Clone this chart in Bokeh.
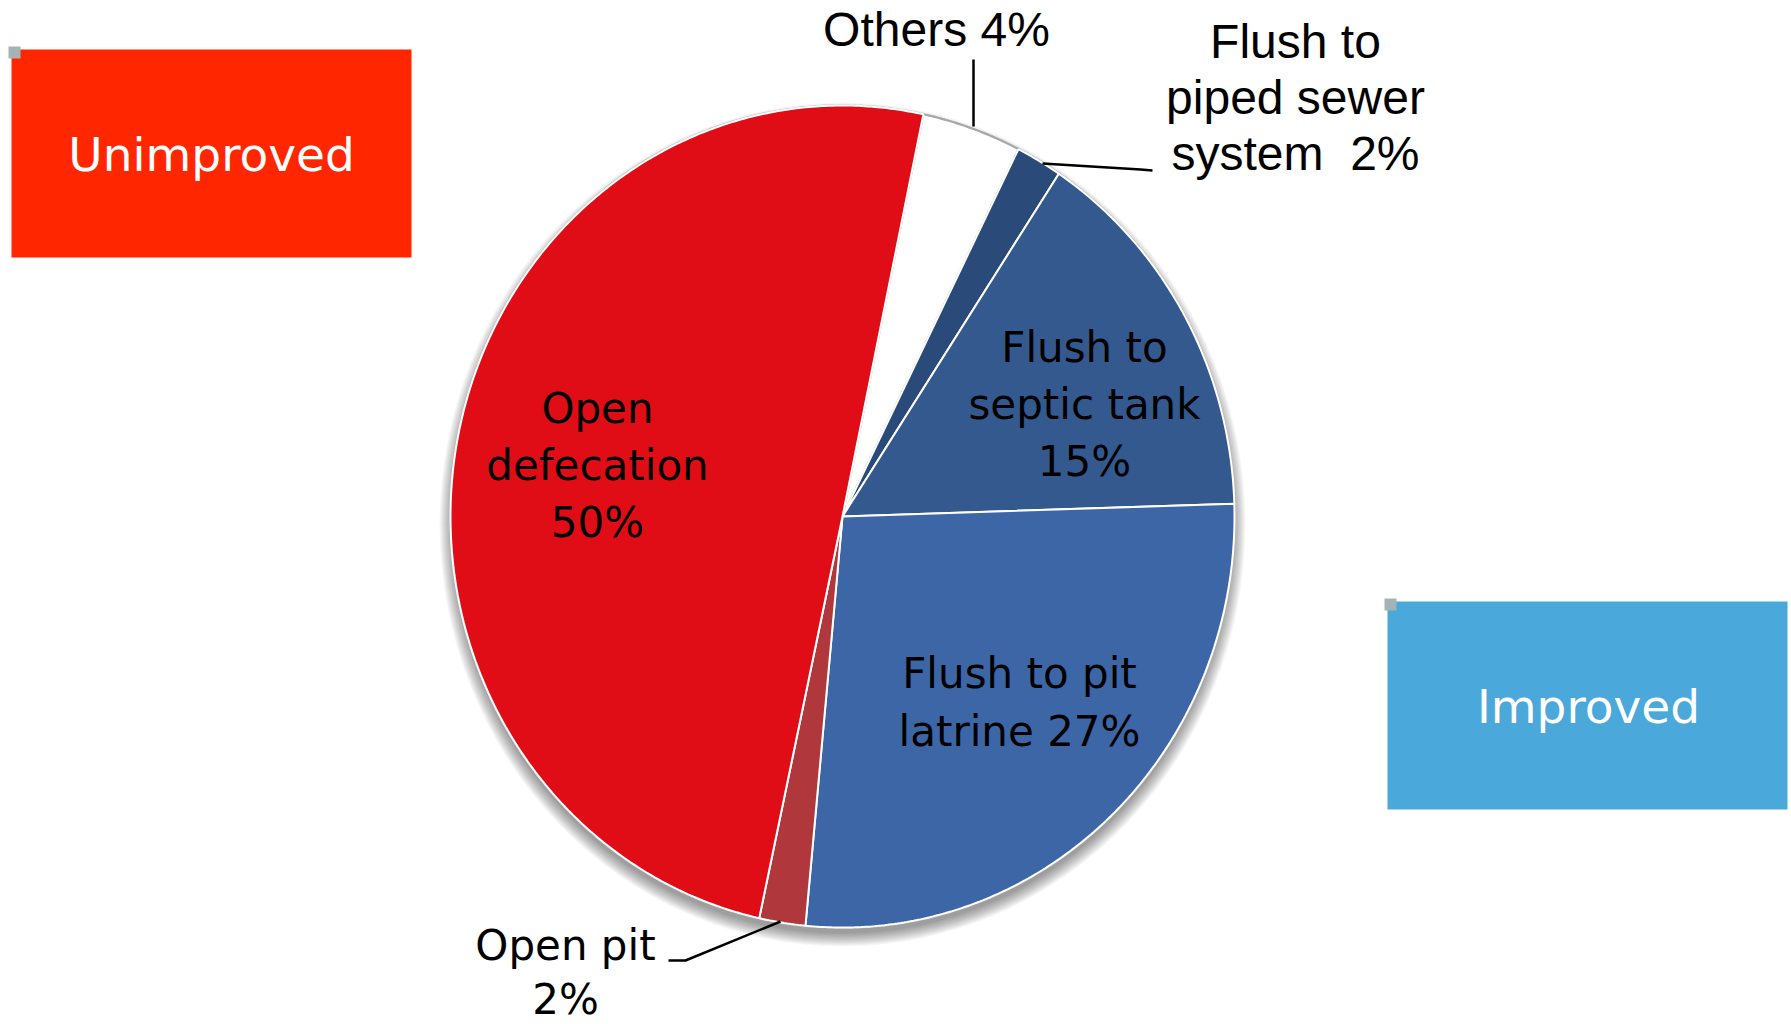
import numpy as np
from bokeh.plotting import figure
from bokeh.models import Range1d, ColumnDataSource
from bokeh.embed import file_html
from bokeh.resources import INLINE
from bokeh.core.properties import value

# ---------------- data ----------------
categories = ["Others", "Flush to piped sewer system", "Flush to septic tank",
              "Flush to pit latrine", "Open pit", "Open defecation"]
shares = [4.1, 1.9, 15.2, 27.0, 1.9, 49.9]          # percent, clockwise
pct_labels = ["4%", "2%", "15%", "27%", "2%", "50%"]
label_texts = ["Others 4%", "Flush to\npiped sewer\nsystem \u00a02%", "Flush to\nseptic tank\n15%",
               "Flush to pit\nlatrine 27%", "Open pit\n2%", "Open\ndefecation\n50%"]
slice_colors = ["#FFFFFF", "#2A4A7A", "#34598F", "#3D66A6", "#B0373C", "#E00D16"]
slice_edges = ["#A8A8A8", "#FFFFFF", "#FFFFFF", "#FFFFFF", "#FFFFFF", "#FFFFFF"]
group_names = ["Unimproved", "Improved"]
group_colors = ["#FF2600", "#4BA8DB"]

# ---------------- layout ----------------
W, H = 1791, 1024
p = figure(width=W, height=H, output_backend="svg", toolbar_location=None,
           x_range=Range1d(0, W), y_range=Range1d(H, 0),
           x_axis_location=None, y_axis_location=None, min_border=0)
p.xgrid.visible = False
p.ygrid.visible = False
p.outline_line_color = None
p.background_fill_color = "white"
p.border_fill_color = "white"

cx, cy, rx, ry = 842.0, 516.0, 392.0, 411.0
start_deg = 11.9

# soft shadow
for s in range(1, 15):
    p.ellipse(x=cx, y=cy + 8, width=2 * (rx + s - 3), height=2 * (ry + s - 3),
              fill_color="#000000", fill_alpha=0.03, line_color=None)

# outer rim
p.ellipse(x=cx, y=cy, width=2 * rx, height=2 * ry, fill_color="white",
          line_color="#B5B5B5", line_width=3)

# slices
cum = np.cumsum([0] + shares)
xs, ys = [], []
for i, v in enumerate(shares):
    a0 = np.radians(start_deg + cum[i] / 100 * 360)
    a1 = np.radians(start_deg + cum[i + 1] / 100 * 360)
    n = max(4, int(abs(a1 - a0) * 120))
    t = np.linspace(a0, a1, n)
    px = [cx] + list(cx + rx * np.sin(t)) + [cx]
    py = [cy] + list(cy - ry * np.cos(t)) + [cy]
    xs.append(px)
    ys.append(py)
src = ColumnDataSource(dict(xs=xs, ys=ys, fill=slice_colors, edge=slice_edges, cat=categories))
p.patches("xs", "ys", source=src, fill_color="fill", line_color="edge", line_width=2)

# leader lines
p.multi_line(xs=[[973, 973], [1042, 1140, 1152], [668, 685, 780]],
             ys=[[59, 126], [163, 169, 170], [960, 960, 921]],
             line_color="black", line_width=2.5)

# labels inside / wide font
p.text(x=[597, 1084, 1019], y=[465, 404, 702],
       text=[label_texts[5], label_texts[2], label_texts[3]],
       text_font=value("DejaVu Sans"), text_font_size="42px", text_color="black",
       text_align="center", text_baseline="middle", text_line_height=1.17)
p.text(x=[565], y=[972], text=[label_texts[4]],
       text_font=value("DejaVu Sans"), text_font_size="42px", text_color="black",
       text_align="center", text_baseline="middle", text_line_height=1.12)
# outside labels / narrow font
p.text(x=[936, 1295], y=[29, 97], text=[label_texts[0], label_texts[1]],
       text_font=value("Liberation Sans"), text_font_size="48px", text_color="black",
       text_align="center", text_baseline="middle", text_line_height=1.05)

# group boxes
p.quad(left=[11, 1387], right=[411, 1787], top=[49, 601], bottom=[257, 809],
       fill_color=group_colors, line_color=None)
p.quad(left=[8, 1384], right=[20, 1396], top=[46, 598], bottom=[58, 610],
       fill_color="#A3B3B6", line_color=None)
p.text(x=[211, 1588], y=[154, 706], text=group_names,
       text_font=value("DejaVu Sans"), text_font_size="47px", text_color="white",
       text_align="center", text_baseline="middle")

open("out.html", "w").write(file_html(p, INLINE))
